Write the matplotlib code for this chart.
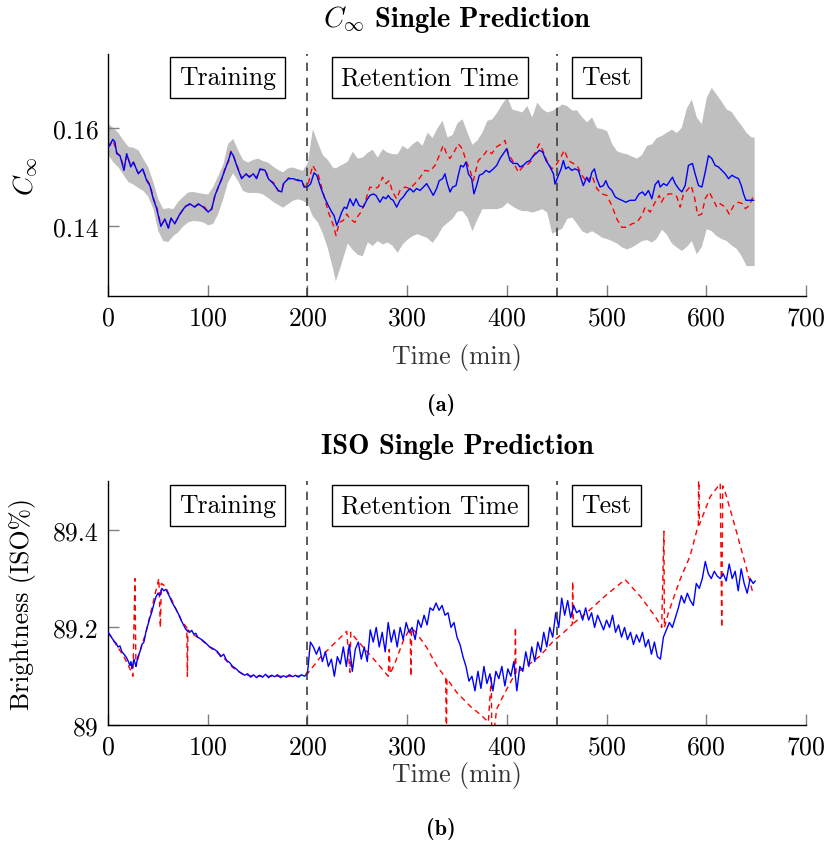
import matplotlib.pyplot as plt
import numpy as np

plt.rcParams['font.family'] = 'cmr10'
plt.rcParams['mathtext.fontset'] = 'cm'
plt.rcParams['axes.unicode_minus'] = False
plt.rcParams['axes.formatter.use_mathtext'] = True

# ---- C_inf: prediction (blue) ----
c_time = [0, 2, 4.7, 7, 8.7, 12, 16, 18.7, 22.8, 25.4, 30.4, 34.8, 38.8, 42, 45.4, 48.8, 53, 57, 60.5,
          63.2, 67, 72, 77, 82, 87, 90.5, 95.5, 100.5, 104, 107.3, 110.7, 114, 118.4, 120.7, 123.4,
          125.7, 129, 134, 138.5, 141.7, 145.8, 149, 152.5, 157.5, 160.8, 165.8, 170.8, 174.2, 175.9,
          180.9, 185.9, 190.9, 194.3, 196.6, 200, 203.3, 206.6, 209.4, 212, 214.4, 217.7, 221, 224.4,
          226.7, 229.4, 232, 234.4, 237, 239.4, 242.7, 246, 248.7, 252, 256, 259.4, 262.7, 266, 268.7,
          272.7, 276, 278.7, 281, 283.5, 286, 289.5, 292.8, 296.2, 299.5, 302.8, 306.2, 309.5, 312.9,
          316.2, 319.6, 322.9, 326.2, 329.6, 332.2, 335.6, 337.9, 340.3, 343, 345.6, 349, 351.3, 353.7,
          356.4, 359, 361.4, 364.7, 367, 369.7, 372.4, 375.8, 379, 382.4, 386.4, 389.8, 393.1, 396.4,
          399.8, 403.1, 406.4, 410.5, 413.2, 416.5, 419.9, 423.2, 426.6, 429.3, 432.6, 436, 439.3,
          443.3, 446.7, 448.3, 451.7, 454.4, 456.7, 459, 461.7, 465, 468.4, 471.7, 474.4, 476.7, 480.1,
          482.8, 485.2, 487.8, 490.2, 493.5, 496.9, 499.2, 501.9, 505.3, 508.6, 511.9, 515.3, 519.3,
          523.6, 528.6, 532.6, 536, 538.6, 542, 545.4, 548.7, 552, 553.7, 557.1, 560.4, 563.8, 566.1,
          568.8, 572.1, 575.5, 578.8, 582.1, 586.1, 588.8, 592.2, 595.6, 598.9, 602.2, 605.6, 608.9,
          612.2, 615.6, 619, 622.3, 625.7, 629, 632.4, 635.1, 637.4, 639.8, 643.1, 647.5]
c_pred = [.1560, .1564, .1576, .1571, .1547, .1543, .1513, .1547, .1520, .1530, .1506, .1516, .1492,
          .1482, .1455, .1435, .1399, .1414, .1395, .1416, .1404, .1424, .1438, .1445, .1438, .1445,
          .1438, .1428, .1435, .1462, .1479, .1496, .1520, .1533, .1550, .1543, .1523, .1496, .1506,
          .1499, .1506, .1496, .1516, .1513, .1496, .1486, .1472, .1469, .1486, .1496, .1496, .1492,
          .1492, .1479, .1479, .1486, .1508, .1503, .1486, .1472, .1455, .1441, .1428, .1421, .1401,
          .1414, .1428, .1438, .1435, .1455, .1441, .1455, .1441, .1438, .1452, .1462, .1465, .1462,
          .1448, .1459, .1455, .1462, .1455, .1452, .1438, .1452, .1459, .1469, .1476, .1469, .1476,
          .1472, .1479, .1486, .1474, .1462, .1476, .1492, .1496, .1506, .1486, .1469, .1479, .1482,
          .1503, .1523, .1520, .1530, .1506, .1496, .1465, .1482, .1503, .1506, .1513, .1509, .1516,
          .1523, .1537, .1547, .1557, .1533, .1527, .1527, .1520, .1523, .1530, .1533, .1543, .1547,
          .1554, .1550, .1533, .1520, .1506, .1485, .1503, .1516, .1533, .1516, .1520, .1513, .1516,
          .1513, .1496, .1482, .1499, .1489, .1509, .1516, .1496, .1479, .1482, .1492, .1479, .1472,
          .1459, .1455, .1452, .1448, .1452, .1452, .1465, .1469, .1462, .1472, .1455, .1484, .1492,
          .1479, .1486, .1482, .1492, .1499, .1486, .1476, .1469, .1482, .1523, .1527, .1506, .1482,
          .1479, .1509, .1543, .1537, .1523, .1520, .1513, .1506, .1496, .1503, .1499, .1496, .1482,
          .1465, .1452, .1452, .1452]

# ---- C_inf: measured (red dashed) ----
c_meas_time = [0, 5, 9, 13, 16, 19, 23, 26, 30, 35, 39, 42, 46, 49, 53, 57, 61, 63, 67, 72, 77, 82,
               87, 91, 96, 100, 104, 107, 111, 114, 118, 121, 123, 126, 129, 134, 138, 142, 146, 149,
               152, 158, 161, 166, 171, 174, 176, 181, 186, 191, 194, 197, 200, 205.3, 211, 216, 221,
               226, 228.7, 232, 236, 239.4, 242.7, 247.7, 250, 253.7, 257.7, 262.7, 267.7, 271, 275.4,
               278.7, 282, 285.4, 289.5, 292.8, 297.8, 302.8, 307.8, 312.1, 317.8, 322.9, 327.9, 332.2,
               336.2, 339.6, 342.9, 347, 351.3, 355.3, 359, 363, 366.4, 371.4, 376.4, 380.4, 384.8,
               389.8, 394.8, 398.1, 401.5, 406.5, 411.5, 415.9, 419.9, 424.9, 429.3, 432.6, 436, 440,
               445, 449, 453.4, 457.7, 461.7, 466.7, 471.2, 475.2, 480.2, 485.2, 490.2, 495.2, 500.2,
               505.3, 510.3, 515.3, 520.3, 525.3, 530.3, 535.4, 538.7, 543.7, 548.7, 552.8, 555, 558,
               562.1, 567.1, 570.5, 573.8, 577.2, 580.5, 584.8, 588.1, 591.5, 595.5, 598.9, 602.9,
               607.3, 610.6, 614, 619, 623, 627.4, 632.4, 636.4, 639.1, 643.1, 646.8]
c_meas = [.1562, .1574, .1549, .1540, .1515, .1545, .1522, .1528, .1508, .1514, .1494, .1484, .1453,
          .1437, .1401, .1412, .1397, .1414, .1406, .1422, .1440, .1443, .1440, .1443, .1440, .1430,
          .1433, .1460, .1481, .1494, .1522, .1531, .1552, .1541, .1525, .1498, .1504, .1501, .1504,
          .1498, .1514, .1515, .1494, .1488, .1470, .1471, .1484, .1498, .1494, .1494, .1490, .1481,
          .1479, .1523, .1503, .1465, .1428, .1401, .1380, .1407, .1411, .1424, .1414, .1407, .1418,
          .1428, .1448, .1479, .1476, .1479, .1499, .1486, .1492, .1469, .1455, .1472, .1479, .1476,
          .1486, .1496, .1513, .1511, .1523, .1543, .1564, .1547, .1537, .1550, .1567, .1557, .1533,
          .1513, .1492, .1533, .1543, .1554, .1547, .1561, .1567, .1574, .1547, .1530, .1509, .1520,
          .1523, .1533, .1554, .1567, .1554, .1533, .1516, .1523, .1537, .1554, .1533, .1527, .1520,
          .1503, .1489, .1503, .1476, .1465, .1462, .1441, .1414, .1397, .1397, .1404, .1407, .1421,
          .1438, .1428, .1448, .1462, .1448, .1459, .1465, .1465, .1459, .1438, .1465, .1472, .1482,
          .1459, .1421, .1424, .1455, .1469, .1452, .1438, .1445, .1438, .1424, .1441, .1448, .1445,
          .1435, .1441, .1459]

# ---- C_inf: uncertainty band (grey) ----
band_time = [0, 5, 10, 15, 20, 25, 30, 35, 40, 45, 50, 55, 60, 65, 70, 75, 80, 85, 90, 95, 100, 105,
             110, 115, 120, 125, 130, 135, 140, 145, 150, 155, 160, 165, 170, 175, 180, 185, 190, 195,
             200, 205, 210, 215, 220, 225, 228, 232, 236, 240, 245, 250, 255, 260, 265, 270, 275, 280,
             285, 290, 295, 300, 305, 310, 315, 320, 325, 330, 335, 340, 345, 350, 355, 360, 365, 370,
             375, 380, 385, 390, 395, 400, 405, 410, 415, 420, 425, 430, 435, 440, 445, 450, 455, 460,
             465, 470, 475, 480, 485, 490, 495, 500, 505, 510, 515, 520, 525, 530, 535, 540, 545, 550,
             555, 560, 565, 570, 575, 580, 585, 590, 595, 600, 605, 610, 615, 620, 625, 630, 635, 640,
             645, 648]
band_lo = [.1545, .1530, .1520, .1505, .1490, .1485, .1478, .1472, .1460, .1435, .1390, .1370, .1368,
           .1380, .1388, .1400, .1408, .1411, .1410, .1408, .1402, .1405, .1425, .1455, .1490, .1508,
           .1492, .1472, .1468, .1468, .1468, .1465, .1458, .1450, .1444, .1438, .1445, .1452, .1455,
           .1452, .1445, .1420, .1408, .1385, .1355, .1315, .1288, .1312, .1339, .1365, .1352, .1342,
           .1339, .1367, .1360, .1370, .1363, .1367, .1360, .1346, .1363, .1373, .1380, .1384, .1380,
           .1376, .1366, .1380, .1398, .1407, .1415, .1430, .1431, .1418, .1390, .1414, .1435, .1435,
           .1435, .1435, .1438, .1448, .1441, .1435, .1431, .1431, .1428, .1431, .1435, .1428, .1385,
           .1390, .1395, .1415, .1418, .1405, .1390, .1385, .1390, .1384, .1377, .1374, .1370, .1365,
           .1357, .1353, .1357, .1363, .1370, .1372, .1367, .1375, .1393, .1383, .1365, .1357, .1350,
           .1358, .1370, .1343, .1358, .1394, .1390, .1380, .1374, .1370, .1361, .1354, .1339, .1319,
           .1319, .1319]
band_hi = [.1608, .1600, .1590, .1575, .1562, .1560, .1555, .1537, .1520, .1490, .1455, .1435, .1437,
           .1435, .1450, .1460, .1469, .1470, .1468, .1466, .1465, .1480, .1502, .1525, .1568, .1578,
           .1555, .1535, .1530, .1535, .1538, .1533, .1530, .1522, .1515, .1510, .1518, .1520, .1516,
           .1513, .1530, .1598, .1570, .1545, .1535, .1520, .1518, .1523, .1527, .1532, .1552, .1538,
           .1540, .1550, .1556, .1540, .1557, .1550, .1547, .1547, .1564, .1557, .1567, .1574, .1564,
           .1591, .1580, .1600, .1615, .1581, .1586, .1610, .1618, .1591, .1566, .1575, .1591, .1615,
           .1618, .1632, .1649, .1663, .1638, .1635, .1632, .1645, .1622, .1652, .1639, .1632, .1635,
           .1641, .1648, .1645, .1636, .1636, .1622, .1612, .1622, .1600, .1598, .1594, .1568, .1553,
           .1549, .1547, .1542, .1538, .1545, .1564, .1567, .1580, .1584, .1591, .1597, .1590, .1601,
           .1640, .1658, .1622, .1608, .1662, .1682, .1668, .1654, .1638, .1633, .1618, .1605, .1590,
           .1581, .1581]

# ---- ISO brightness: prediction (blue) ----
iso_time = [0, 2, 4, 6, 8, 10, 12, 14, 16, 18, 20, 22, 23, 24, 26, 28, 30, 32, 34, 36, 38, 40, 42,
            44, 46, 48, 50, 52, 54, 56, 58, 60, 62, 64, 66, 68, 70, 72, 74, 76, 78, 80, 82, 84, 86,
            88, 90, 94, 98, 102, 106, 110, 113, 116, 119, 122, 125, 128, 131, 134, 137, 140, 143,
            146, 149, 152, 155, 158, 161, 164, 167, 170, 173, 176, 179, 182, 185, 188, 191, 194, 197,
            200, 203, 206, 209, 212, 215, 218, 221, 224, 227, 230, 233, 236, 239, 242, 245, 248, 251,
            254, 257, 260, 263, 266, 269, 272, 275, 278, 281, 284, 287, 290, 293, 296, 299, 302, 305,
            308, 311, 314, 317, 320, 323, 326, 329, 332, 335, 338, 341, 344, 347, 350, 353, 356, 359,
            362, 365, 368, 371, 374, 377, 380, 383, 386, 389, 392, 395, 398, 401, 404, 407, 410, 413,
            416, 419, 422, 425, 428, 431, 434, 437, 440, 443, 446, 449, 452, 455, 458, 461, 464, 467,
            470, 473, 476, 479, 482, 485, 488, 491, 494, 497, 500, 503, 506, 509, 512, 515, 518, 521,
            524, 527, 530, 533, 536, 539, 542, 545, 548, 551, 554, 557, 560, 563, 566, 569, 572, 575,
            578, 581, 584, 587, 590, 593, 596, 599, 602, 605, 608, 611, 614, 617, 620, 623, 626, 629,
            632, 635, 638, 641, 644, 647, 649]
iso_pred = [89.19, 89.185, 89.178, 89.172, 89.168, 89.16, 89.162, 89.15, 89.145, 89.14, 89.132,
            89.122, 89.13, 89.115, 89.135, 89.12, 89.14, 89.15, 89.165, 89.17, 89.19, 89.205, 89.22,
            89.232, 89.248, 89.262, 89.27, 89.265, 89.28, 89.275, 89.278, 89.27, 89.262, 89.252,
            89.245, 89.238, 89.23, 89.222, 89.212, 89.204, 89.196, 89.192, 89.19, 89.194, 89.186,
            89.188, 89.18, 89.175, 89.168, 89.16, 89.156, 89.15, 89.14, 89.145, 89.132, 89.128,
            89.12, 89.116, 89.11, 89.106, 89.102, 89.105, 89.098, 89.103, 89.097, 89.102, 89.098,
            89.104, 89.097, 89.102, 89.099, 89.103, 89.097, 89.101, 89.098, 89.103, 89.099, 89.102,
            89.098, 89.103, 89.1, 89.105, 89.17, 89.16, 89.145, 89.16, 89.13, 89.15, 89.12, 89.135,
            89.1, 89.14, 89.125, 89.16, 89.12, 89.165, 89.11, 89.155, 89.17, 89.135, 89.16, 89.13,
            89.195, 89.17, 89.2, 89.16, 89.19, 89.15, 89.21, 89.17, 89.195, 89.16, 89.2, 89.175,
            89.21, 89.19, 89.2, 89.175, 89.215, 89.2, 89.225, 89.205, 89.24, 89.235, 89.25, 89.235,
            89.245, 89.225, 89.23, 89.2, 89.21, 89.18, 89.165, 89.14, 89.12, 89.09, 89.1, 89.07,
            89.11, 89.075, 89.12, 89.085, 89.105, 89.07, 89.11, 89.095, 89.12, 89.08, 89.115, 89.1,
            89.13, 89.07, 89.12, 89.11, 89.15, 89.12, 89.16, 89.13, 89.17, 89.15, 89.19, 89.16, 89.2,
            89.18, 89.23, 89.2, 89.26, 89.225, 89.255, 89.22, 89.245, 89.23, 89.235, 89.215, 89.24,
            89.215, 89.23, 89.2, 89.225, 89.21, 89.195, 89.215, 89.2, 89.225, 89.19, 89.205, 89.18,
            89.2, 89.175, 89.19, 89.165, 89.185, 89.17, 89.19, 89.16, 89.175, 89.145, 89.17, 89.14,
            89.135, 89.18, 89.195, 89.21, 89.2, 89.22, 89.24, 89.265, 89.25, 89.27, 89.255, 89.245,
            89.29, 89.28, 89.3, 89.335, 89.31, 89.3, 89.315, 89.305, 89.3, 89.31, 89.295, 89.33, 89.3,
            89.315, 89.275, 89.32, 89.29, 89.27, 89.3, 89.29, 89.295]

# ---- ISO brightness: measured (red dashed) ----
iso_meas_time = [0, 8, 16, 22, 25, 27, 28, 32, 38, 44, 48, 51, 52.5, 53.5, 57, 62, 68, 74, 79, 79.6,
                 80.2, 86, 95, 105, 115, 125, 135, 145, 160, 175, 190, 200, 212.6, 224.4, 239.4,
                 242.7, 243.5, 247.7, 257.8, 269.5, 281, 282, 283, 288, 296, 303, 303.8, 304.6, 308,
                 319.6, 329.7, 338.7, 339.3, 339.9, 349.7, 363, 374.8, 381.4, 384.4, 385, 389.8, 398.2,
                 408, 408.6, 409.2, 420, 433, 446.6, 455, 465.6, 466, 466.6, 480, 500, 518.6, 533.6,
                 548.6, 555.3, 557.5, 558, 562, 573.7, 583.7, 592, 592.5, 593, 604, 614, 615.5, 616.5,
                 618.6, 627, 637, 647.2]
iso_meas = [89.19, 89.165, 89.14, 89.115, 89.1, 89.3, 89.12, 89.15, 89.19, 89.24, 89.275, 89.3, 89.2,
            89.29, 89.285, 89.265, 89.238, 89.212, 89.2, 89.1, 89.195, 89.185, 89.172, 89.155,
            89.14, 89.118, 89.104, 89.1, 89.1, 89.1, 89.1, 89.105, 89.138, 89.162, 89.192, 89.108,
            89.19, 89.179, 89.155, 89.128, 89.1, 89.155, 89.105, 89.128, 89.172, 89.199, 89.1,
            89.198, 89.192, 89.159, 89.121, 89.097, 88.95, 89.095, 89.067, 89.039, 89.019, 89.006,
            89.097, 88.95, 89.033, 89.067, 89.104, 89.2, 89.106, 89.121, 89.141, 89.172, 89.186,
            89.206, 89.294, 89.208, 89.23, 89.267, 89.298, 89.264, 89.223, 89.2, 89.397, 89.2, 89.23,
            89.298, 89.346, 89.41, 89.55, 89.41, 89.468, 89.495, 89.2, 89.49, 89.48, 89.42, 89.346,
            89.267]

phase_bounds = [200, 450]
phase_labels = ['Training', 'Retention Time', 'Test']
phase_label_x = [120, 323, 500]

BLUE = '#0000ff'
RED = '#ff0000'
GREY = '#bfbfbf'
FS = 18.5

fig = plt.figure(figsize=(8.27, 8.45), dpi=100)
ax1 = fig.add_axes([0.1306, 0.6485, 0.844, 0.2864])
ax2 = fig.add_axes([0.1306, 0.1408, 0.844, 0.2888])


def style(ax, label_y, xpad):
    for s in ['top', 'right']:
        ax.spines[s].set_visible(False)
    for s in ['left', 'bottom']:
        ax.spines[s].set_linewidth(1.0)
    ax.tick_params(direction='in', length=8, width=1, color='#808080',
                   labelcolor='black', labelsize=FS, pad=7)
    ax.set_xlim(0, 700)
    ax.set_xticks(np.arange(0, 701, 100))
    ax.set_xlabel('Time (min)', fontsize=FS, color='#333333', labelpad=xpad)
    for b in phase_bounds:
        ax.axvline(b, color='#404040', lw=1.2, ls=(0, (5, 4)), zorder=4)
    for x, lab in zip(phase_label_x, phase_labels):
        ax.text(x, label_y, lab, fontsize=FS, ha='center', va='center', zorder=6,
                bbox=dict(boxstyle='square,pad=0.35', fc='white', ec='black', lw=1))


# top panel
ax1.fill_between(band_time, band_lo, band_hi, color=GREY, lw=0, zorder=1)
ax1.plot(c_meas_time, c_meas, color=RED, lw=1, ls=(0, (4, 3)), zorder=2)
ax1.plot(c_time, c_pred, color=BLUE, lw=1, zorder=3)
ax1.set_ylim(0.1257, 0.175)
ax1.set_yticks([0.14, 0.16])
ax1.set_yticklabels(['0.14', '0.16'])
ax1.set_ylabel(r'$C_\infty$', fontsize=FS + 1, labelpad=10)
style(ax1, 0.1702, 10)
ax1.set_title(r'$C_\infty$ Single Prediction', fontsize=20.5, fontfamily='cmb10', pad=20)

# bottom panel
ax2.plot(iso_meas_time, iso_meas, color=RED, lw=1, ls=(0, (4, 3)), zorder=2)
ax2.plot(iso_time, iso_pred, color=BLUE, lw=1, zorder=3)
ax2.set_ylim(89, 89.5)
ax2.set_yticks([89, 89.2, 89.4])
ax2.set_yticklabels(['89', '89.2', '89.4'])
ax2.set_ylabel('Brightness (ISO%)', fontsize=FS, labelpad=12)
style(ax2, 89.45, 2)
ax2.set_title('ISO Single Prediction', fontsize=20.5, fontfamily='cmb10', pad=20)

fig.text(441 / 827, 1 - 405 / 845, '(a)', fontsize=16, fontfamily='cmb10', ha='center', va='center')
fig.text(441 / 827, 1 - 829 / 845, '(b)', fontsize=16, fontfamily='cmb10', ha='center', va='center')

plt.savefig('out.png', dpi=100)
